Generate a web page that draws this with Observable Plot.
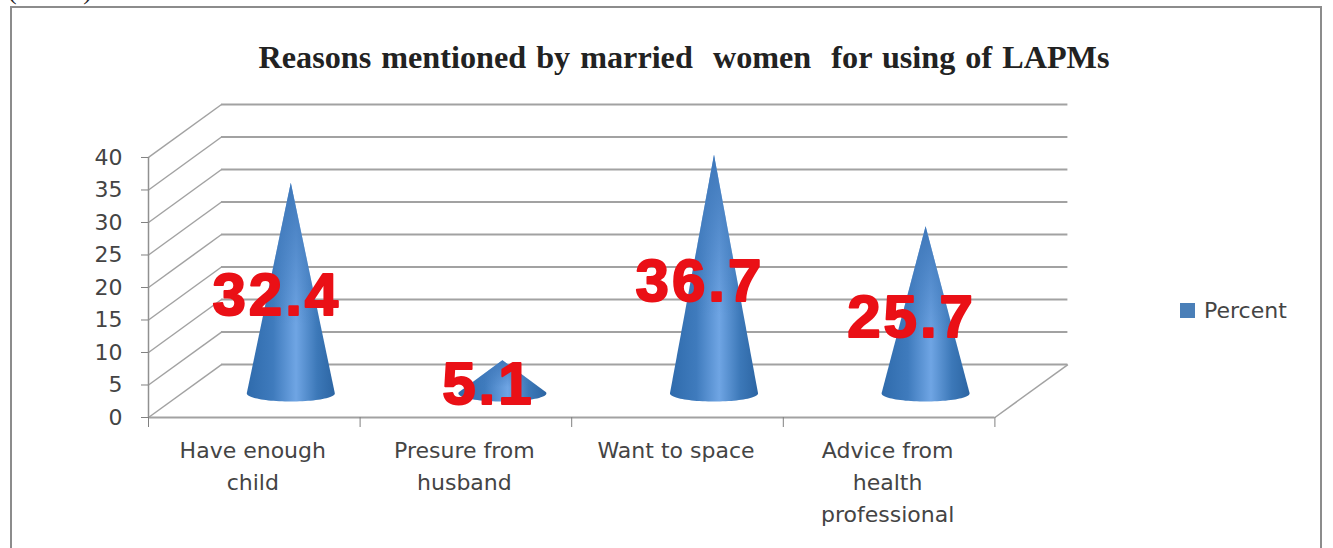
<!DOCTYPE html>
<html>
<head>
<meta charset="utf-8">
<script src="https://cdn.jsdelivr.net/npm/d3@7"></script>
<script src="https://cdn.jsdelivr.net/npm/@observablehq/plot@0.6"></script>
<style>
  html, body { margin: 0; background: #fff; }
  #page { position: relative; width: 1333px; height: 548px; overflow: hidden; }
  #frame { position: absolute; left: 10px; top: 6px; width: 1308px; height: 560px; border: 2px solid #8c8c8c; }
  #sample { position: absolute; left: 8px; top: -24px; font: 26px "Liberation Serif", serif; color: #222; }
  #title { position: absolute; left: 0; top: 39px; width: 1368px; text-align: center;
           font: bold 32.2px "Liberation Serif", serif; color: #222; word-spacing: 2px; }
  #legend { position: absolute; left: 1180px; top: 298px; display: flex; align-items: center;
            gap: 9px; font: 22px "DejaVu Sans", sans-serif; color: #444; }
  #legend i { display: block; width: 15px; height: 15px; background: #4a7fb8; }
  svg { position: absolute; left: 0; top: 0; }
  .value-label { letter-spacing: 3px; }
</style>
</head>
<body>
<div id="page">
  <div id="sample">(n=230)</div>
  <div id="frame"></div>
  <div id="title">Reasons mentioned by married&nbsp; women&nbsp; for using of LAPMs</div>
  <div id="legend"><i></i><span>Percent</span></div>
</div>
<script>
const categories = [
  "Have enough\nchild",
  "Presure from\nhusband",
  "Want to space",
  "Advice from\nhealth\nprofessional"
];
const percent = [32.4, 5.1, 36.7, 25.7];
const yTicks = [0, 5, 10, 15, 20, 25, 30, 35, 40];

// Oblique projection: how far the back wall is shifted, in axis units.
const depthX = 0.345;
const depthY = 8.15;
// Cone footprint on the floor, in axis units.
const coneRx = 0.208;
const coneRy = 1.25;

const bars = categories.map((label, i) => ({
  label,
  value: percent[i],
  cx: i + 0.5 + depthX / 2,
  floor: depthY * 0.455
}));

// Outline of each cone: apex, then around the visible part of the base ellipse.
function coneOutline(b) {
  const t0 = Math.asin(Math.min(1, coneRy / b.value));
  const pts = [{label: b.label, x: b.cx, y: b.floor + b.value}];
  for (let k = 0; k <= 48; ++k) {
    const t = t0 - (k / 48) * (Math.PI + 2 * t0);
    pts.push({
      label: b.label,
      x: b.cx + coneRx * Math.cos(t),
      y: b.floor + coneRy * Math.sin(t)
    });
  }
  return pts;
}
const cones = bars.flatMap(coneOutline);

const ink = "#a2a2a2";
const chart = Plot.plot({
  width: 1333,
  height: 548,
  marginLeft: 148,
  marginRight: 265.6,
  marginTop: 104,
  marginBottom: 131,
  style: {background: "transparent", overflow: "visible"},
  x: {domain: [0, 4 + depthX]},
  y: {domain: [0, 40 + depthY]},
  marks: [
    // back wall gridlines and their slanted returns along the side wall
    Plot.ruleY(yTicks, {x1: depthX, x2: 4 + depthX, y: d => d + depthY, stroke: ink, strokeWidth: 2}),
    Plot.link(yTicks, {x1: 0, y1: d => d, x2: depthX, y2: d => d + depthY, stroke: ink, strokeWidth: 1.5}),
    // floor edges
    Plot.link([0], {x1: 4, y1: 0, x2: 4 + depthX, y2: depthY, stroke: ink, strokeWidth: 1.5}),
    Plot.ruleY([0], {x1: 0, x2: 4, stroke: ink, strokeWidth: 2}),
    Plot.ruleX([0], {y1: 0, y2: 40, stroke: "#909090", strokeWidth: 1.5}),
    // axes
    Plot.axisY({
      ticks: yTicks, anchor: "left", label: null, tickSize: 7, tickPadding: 19,
      stroke: "#808080", fill: "#444", fontSize: 22, fontFamily: "DejaVu Sans"
    }),
    Plot.axisX({
      ticks: [0, 1, 2, 3, 4], anchor: "bottom", label: null, tickSize: 10,
      tickFormat: () => "", stroke: "#808080"
    }),
    Plot.text(bars, {
      x: (d, i) => i + 0.5, y: 0, text: "label", dx: -1.5, dy: 18, lineAnchor: "top", lineHeight: 1.45,
      fill: "#444", fontSize: 22, fontFamily: "DejaVu Sans"
    }),
    // cones: side shading, then a tint that fades the highlight towards the tip
    Plot.line(cones, {x: "x", y: "y", z: "label", fill: "url(#coneShade)", stroke: "none", curve: "linear"}),
    Plot.line(cones, {x: "x", y: "y", z: "label", fill: "url(#coneTip)", stroke: "none", curve: "linear"}),
    // value labels
    Plot.text(bars, {
      className: "value-label",
      x: "cx", y: d => d.floor + d.value / 2, text: d => String(d.value), dx: -14, dy: 8,
      fill: "#ea1016", stroke: "#ea1016", strokeWidth: 2,
      fontSize: 60, fontWeight: "bold", fontFamily: "Liberation Sans"
    })
  ]
});

// Gradients referenced by the cone fills.
chart.insertAdjacentHTML("afterbegin", `
  <defs>
    <linearGradient id="coneShade" x1="0" x2="1" y1="0" y2="0">
      <stop offset="0" stop-color="#2f6bac"/>
      <stop offset="0.3" stop-color="#3f7bbd"/>
      <stop offset="0.56" stop-color="#6fa5e4"/>
      <stop offset="0.8" stop-color="#3c78b8"/>
      <stop offset="1" stop-color="#2c65a3"/>
    </linearGradient>
    <linearGradient id="coneTip" x1="0" x2="0" y1="0" y2="1">
      <stop offset="0" stop-color="#3f78ba" stop-opacity="1"/>
      <stop offset="0.65" stop-color="#3f78ba" stop-opacity="0"/>
    </linearGradient>
  </defs>`);
document.getElementById("page").insertBefore(chart, document.getElementById("title"));
</script>
</body>
</html>
